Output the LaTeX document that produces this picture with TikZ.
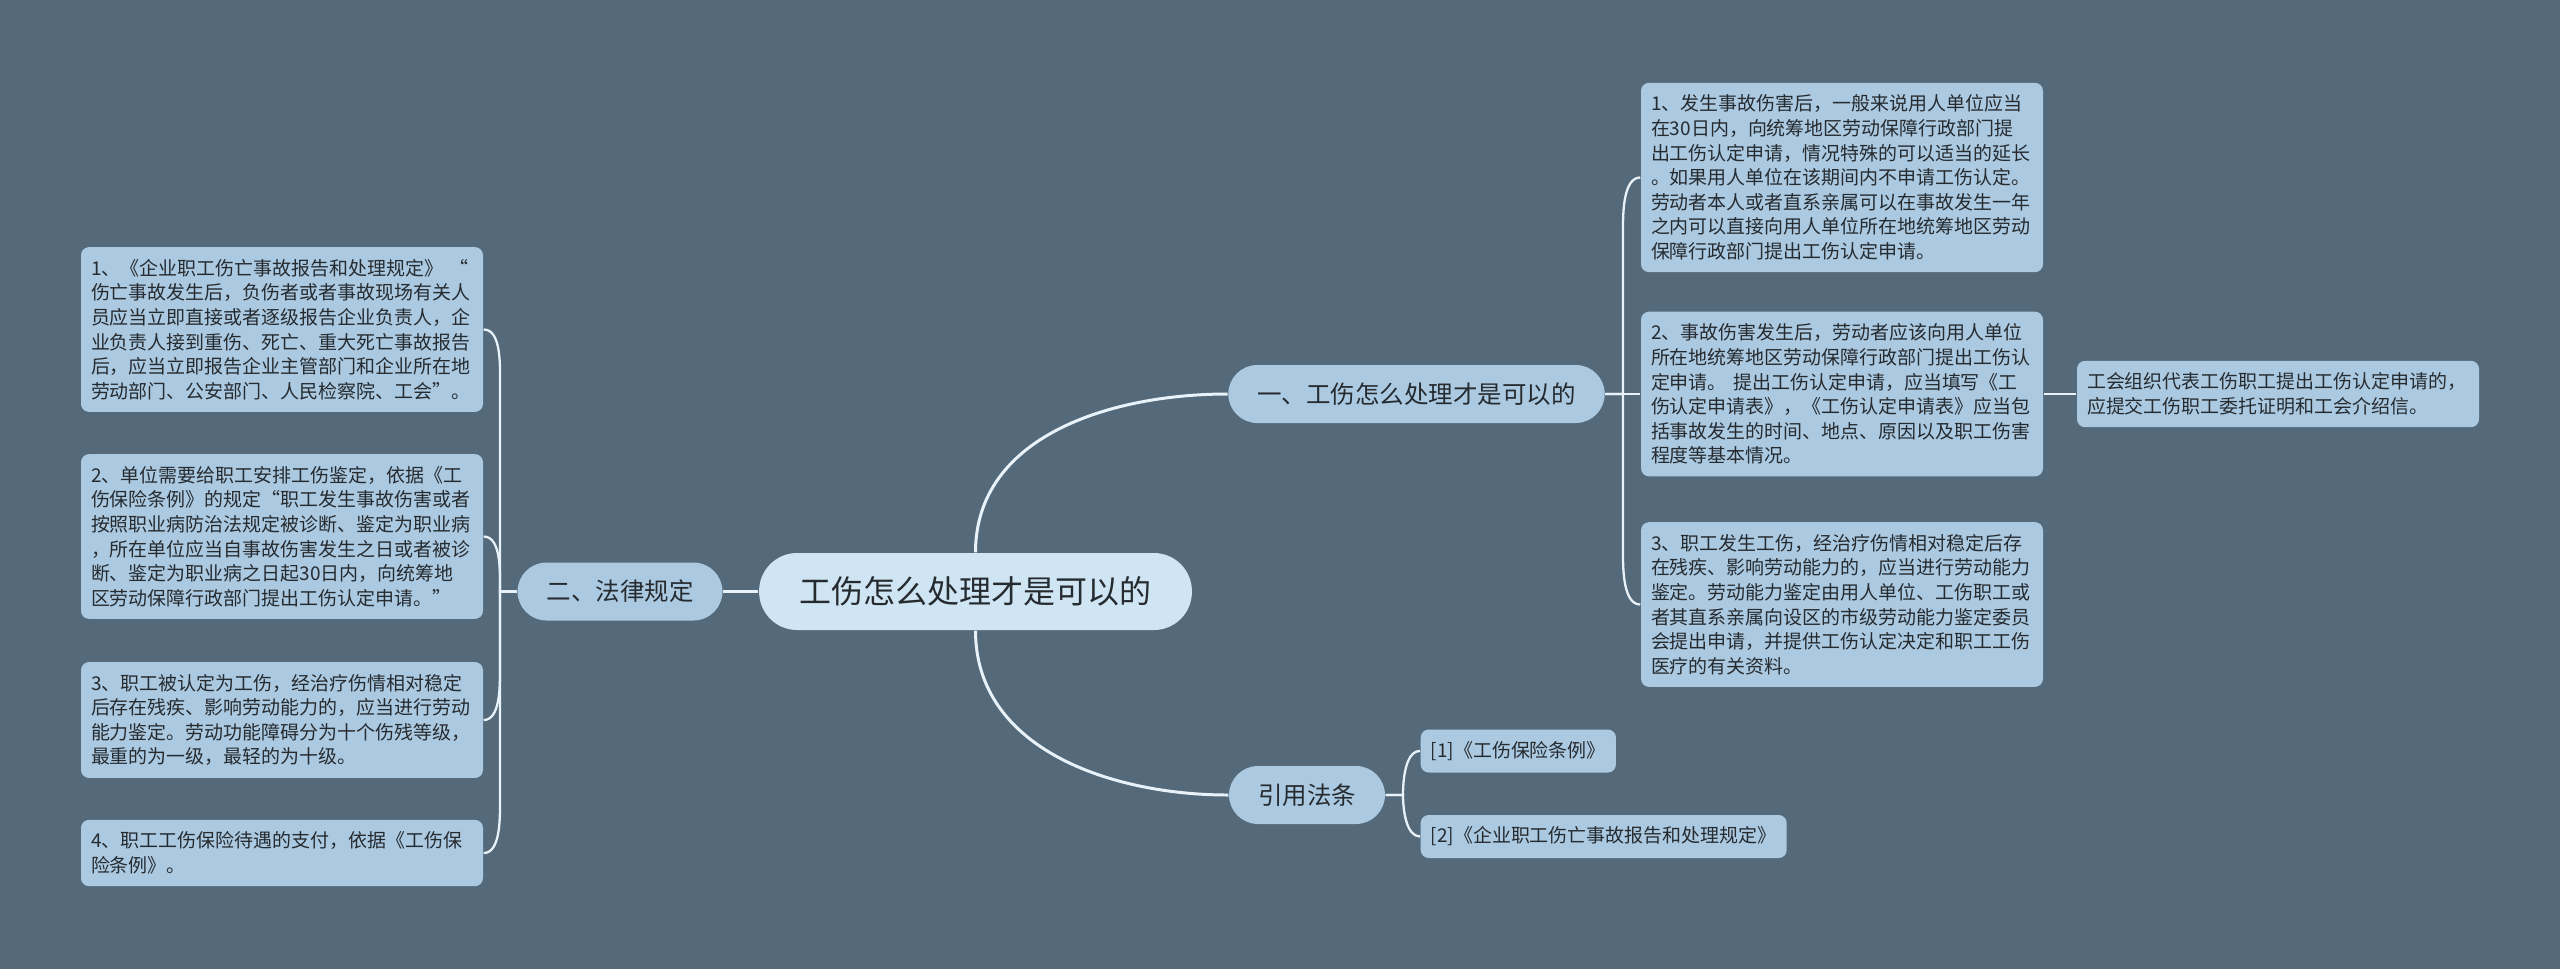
\documentclass[tikz,border=0pt]{standalone}
\usepackage{fontspec}
\setmainfont{Noto Sans CJK SC}
\usepackage{tikz}
\usetikzlibrary{positioning, calc}
\definecolor{bgslate}{HTML}{546A7B}
\definecolor{leafblue}{HTML}{ABC9E0}
\definecolor{rootblue}{HTML}{CFE5F3}
\definecolor{linkwhite}{HTML}{E8F2F8}
\definecolor{inkgrey}{HTML}{262B30}

\tikzset{
  topic/.style={fill=rootblue, text=inkgrey, rounded corners=0.38cm, minimum height=0.77cm, inner xsep=0.405cm, inner ysep=0pt, font=\fontsize{9.1pt}{11pt}\selectfont},
  branch/.style={fill=leafblue, text=inkgrey, rounded corners=0.29cm, minimum height=0.58cm, inner xsep=0.29cm, inner ysep=0pt, font=\fontsize{6.97pt}{8pt}\selectfont},
  leaf/.style={fill=leafblue, text=inkgrey, rounded corners=0.08cm, text width=3.82cm, align=left, inner xsep=0.10cm, inner ysep=0.12cm, font=\fontsize{5.4pt}{7pt}\selectfont},
  lawref/.style={fill=leafblue, text=inkgrey, rounded corners=0.08cm, minimum height=0.43cm, inner xsep=0.10cm, inner ysep=0pt, font=\fontsize{5.4pt}{7pt}\selectfont},
  trunk/.style={draw=linkwhite, line width=0.85pt},
  twig/.style={draw=linkwhite, line width=0.65pt}
}

\begin{document}
\begin{tikzpicture}
\fill[bgslate] (0,0) rectangle (25.6,-9.69);
\useasboundingbox (0,0) rectangle (25.6,-9.69);

\node[topic] (root) at (9.755,-5.915) {工伤怎么处理才是可以的};
\node[branch] (how) at (14.165,-3.94) {一、工伤怎么处理才是可以的};
\node[branch] (law) at (6.20,-5.915) {二、法律规定};
\node[branch] (cite) at (13.07,-7.95) {引用法条};

\node[leaf] (how1) at (18.42,-1.775) {1、发生事故伤害后，一般来说用人单位应当\\在30日内，向统筹地区劳动保障行政部门提\\出工伤认定申请，情况特殊的可以适当的延长\\。如果用人单位在该期间内不申请工伤认定。\\劳动者本人或者直系亲属可以在事故发生一年\\之内可以直接向用人单位所在地统筹地区劳动\\保障行政部门提出工伤认定申请。};
\node[leaf] (how2) at (18.42,-3.94) {2、事故伤害发生后，劳动者应该向用人单位\\所在地统筹地区劳动保障行政部门提出工伤认\\定申请。~提出工伤认定申请，应当填写《工\\伤认定申请表》，《工伤认定申请表》应当包\\括事故发生的时间、地点、原因以及职工伤害\\程度等基本情况。};
\node[leaf] (union) at (22.78,-3.94) {工会组织代表工伤职工提出工伤认定申请的，\\应提交工伤职工委托证明和工会介绍信。};
\node[leaf] (how3) at (18.42,-6.045) {3、职工发生工伤，经治疗伤情相对稳定后存\\在残疾、影响劳动能力的，应当进行劳动能力\\鉴定。劳动能力鉴定由用人单位、工伤职工或\\者其直系亲属向设区的市级劳动能力鉴定委员\\会提出申请，并提供工伤认定决定和职工工伤\\医疗的有关资料。};

\node[leaf] (law1) at (2.82,-3.295) {1、《企业职工伤亡事故报告和处理规定》~“\\伤亡事故发生后，负伤者或者事故现场有关人\\员应当立即直接或者逐级报告企业负责人，企\\业负责人接到重伤、死亡、重大死亡事故报告\\后，应当立即报告企业主管部门和企业所在地\\劳动部门、公安部门、人民检察院、工会”。};
\node[leaf] (law2) at (2.82,-5.365) {2、单位需要给职工安排工伤鉴定，依据《工\\伤保险条例》的规定“职工发生事故伤害或者\\按照职业病防治法规定被诊断、鉴定为职业病\\，所在单位应当自事故伤害发生之日或者被诊\\断、鉴定为职业病之日起30日内，向统筹地\\区劳动保障行政部门提出工伤认定申请。”};
\node[leaf] (law3) at (2.82,-7.20) {3、职工被认定为工伤，经治疗伤情相对稳定\\后存在残疾、影响劳动能力的，应当进行劳动\\能力鉴定。劳动功能障碍分为十个伤残等级，\\最重的为一级，最轻的为十级。};
\node[leaf] (law4) at (2.82,-8.53) {4、职工工伤保险待遇的支付，依据《工伤保\\险条例》。};

\node[lawref, anchor=west] (cite1) at (14.20,-7.51) {[1]《工伤保险条例》};
\node[lawref, anchor=west] (cite2) at (14.20,-8.365) {[2]《企业职工伤亡事故报告和处理规定》};

\coordinate (forkhow) at (16.23,-3.94);
\coordinate (forklaw) at (5.00,-5.915);
\coordinate (forkcite) at (14.03,-7.95);

\draw[trunk] (root.north) to[out=90,in=180] (how.west);
\draw[trunk] (root.south) to[out=-90,in=180] (cite.west);
\draw[trunk] (root.west) -- (law.east);

\draw[twig] (how.east) -- (forkhow) -- ($(forkhow |- how1.west)+(0,-0.5)$) to[out=90,in=180,looseness=0.8] (how1.west);
\draw[twig] (how.east) -- (how2.west);
\draw[twig] (how.east) -- (forkhow) -- ($(forkhow |- how3.west)+(0,0.5)$) to[out=-90,in=180,looseness=0.8] (how3.west);
\draw[twig] (how2.east) -- (union.west);

\draw[twig] (law.west) -- (forklaw) -- ($(forklaw |- law1.east)+(0,-0.55)$) to[out=90,in=0,looseness=0.8] (law1.east);
\draw[twig] (law.west) -- (forklaw) to[out=90,in=0,looseness=0.8] (law2.east);
\draw[twig] (law.west) -- (forklaw) -- ($(forklaw |- law3.east)+(0,0.5)$) to[out=-90,in=0,looseness=0.8] (law3.east);
\draw[twig] (law.west) -- (forklaw) -- ($(forklaw |- law4.east)+(0,0.5)$) to[out=-90,in=0,looseness=0.8] (law4.east);

\draw[twig] (cite.east) -- (forkcite) to[out=90,in=180,looseness=0.8] (cite1.west);
\draw[twig] (cite.east) -- (forkcite) to[out=-90,in=180,looseness=0.8] (cite2.west);

\end{tikzpicture}
\end{document}
